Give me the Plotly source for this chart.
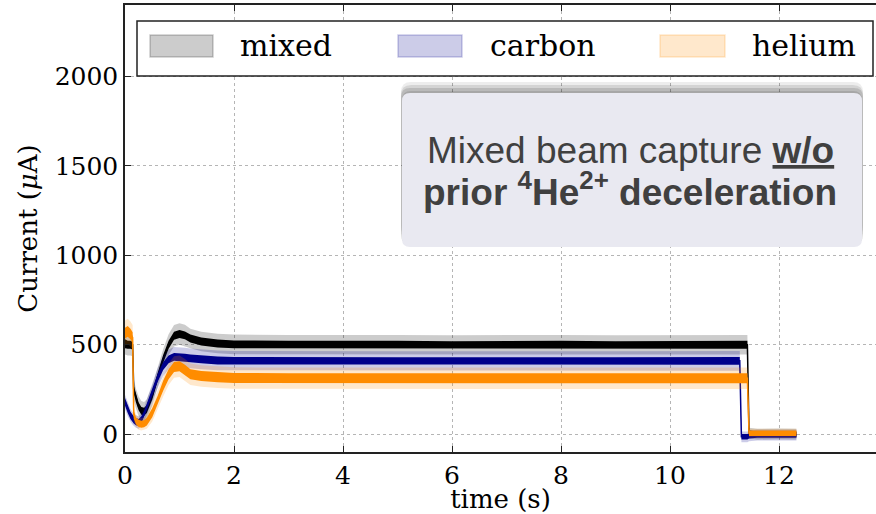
import plotly.graph_objects as go

# ---------------- data ----------------
time_s = [0, 0.05, 0.1, 0.14, 0.16, 0.2, 0.25, 0.3, 0.35, 0.4,
          0.5, 0.6, 0.7, 0.8, 0.9, 1.0, 1.1, 1.2, 1.4, 1.7,
          2.0, 3, 4, 5, 6, 7, 8, 9, 10, 11,
          11.28, 11.31, 11.42, 11.45, 11.6, 12.0, 12.32]

mixed_mean = [505, 500, 500, 495, 250, 200, 155, 130, 125, 140,
              215, 320, 420, 500, 550, 560, 552, 535, 518, 507,
              502, 500, 502, 500, 498, 500, 500, 498, 500, 498,
              500, 500, 500, 5, 0, 2, 0]
carbon_mean = [180, 140, 105, 88, 80, 70, 65, 80, 110, 150,
               235, 315, 380, 418, 432, 432, 428, 424, 418, 412,
               410, 408, 410, 408, 408, 410, 408, 408, 410, 410,
               410, -15, -15, -10, -5, -5, -5]
helium_mean = [565, 575, 560, 540, 110, 75, 60, 55, 58, 70,
               120, 190, 270, 335, 375, 380, 360, 335, 325, 318,
               314, 312, 312, 314, 312, 312, 312, 312, 312, 312,
               312, 312, 312, 5, 5, 5, 5]

# half-width of the light shaded spread
mixed_spread = [60, 60, 60, 60, 60, 55, 55, 55, 55, 55,
                55, 55, 55, 58, 60, 60, 60, 55, 55, 55,
                55, 55, 55, 55, 55, 55, 55, 55, 55, 55,
                55, 55, 55, 30, 30, 30, 30]
carbon_spread = [40, 40, 35, 35, 35, 35, 35, 35, 40, 45,
                 50, 55, 55, 55, 55, 55, 55, 55, 55, 55,
                 55, 55, 55, 55, 55, 55, 55, 55, 55, 55,
                 55, 30, 30, 30, 30, 30, 30]
helium_spread = [70, 70, 70, 70, 40, 35, 35, 35, 35, 40,
                 50, 55, 60, 60, 60, 60, 60, 60, 60, 60,
                 60, 60, 60, 60, 60, 60, 60, 60, 60, 60,
                 60, 60, 60, 25, 25, 25, 25]
# half-width of the dense noisy core of the raw signal
mixed_core = [25, 22, 22, 22, 22, 22, 22, 22, 22, 22,
              22, 22, 22, 22, 22, 22, 22, 22, 22, 22,
              22, 22, 22, 22, 22, 22, 22, 22, 22, 22,
              22, 22, 22, 15, 15, 15, 15]
carbon_core = [22, 22, 20, 20, 20, 20, 20, 20, 20, 20,
               22, 22, 22, 22, 22, 22, 22, 22, 22, 22,
               22, 22, 22, 22, 22, 22, 22, 22, 22, 22,
               22, 15, 15, 15, 15, 15, 15]
helium_core = [30, 30, 30, 30, 22, 20, 20, 20, 20, 22,
               25, 25, 28, 28, 28, 28, 28, 28, 28, 28,
               28, 28, 28, 28, 28, 28, 28, 28, 28, 28,
               28, 28, 28, 15, 15, 15, 15]

series_names = ["mixed", "carbon", "helium"]
x_ticks = [0, 2, 4, 6, 8, 10, 12, 14]
y_ticks = [0, 500, 1000, 1500, 2000]

# ---------------- figure ----------------
W, H = 876, 514
L, R, T, B = 125, 876, 5, 452
SERIF = "DejaVu Serif"

line_colors = {"mixed": "#000000", "carbon": "#00008B", "helium": "#FF8C00"}
band_colors = {"mixed": "rgba(0,0,0,0.2)", "carbon": "rgba(0,0,139,0.2)",
               "helium": "rgba(255,140,0,0.2)"}
data = {
    "mixed": (mixed_mean, mixed_spread, mixed_core),
    "carbon": (carbon_mean, carbon_spread, carbon_core),
    "helium": (helium_mean, helium_spread, helium_core),
}

fig = go.Figure()
for name in series_names:
    mean, spread, core = data[name]
    up = [m + s for m, s in zip(mean, spread)]
    lo = [m - s for m, s in zip(mean, spread)]
    fig.add_trace(go.Scatter(
        x=time_s + time_s[::-1], y=up + lo[::-1], fill="toself",
        fillcolor=band_colors[name], line=dict(width=0), mode="lines",
        name=name, showlegend=False, hoverinfo="skip"))
    cup = [m + c for m, c in zip(mean, core)]
    clo = [m - c for m, c in zip(mean, core)]
    fig.add_trace(go.Scatter(
        x=time_s + time_s[::-1], y=cup + clo[::-1], fill="toself",
        fillcolor=line_colors[name], line=dict(width=0), mode="lines",
        name=name, showlegend=False, hoverinfo="skip"))
    fig.add_trace(go.Scatter(
        x=time_s, y=mean, mode="lines", name=name, showlegend=False,
        line=dict(color=line_colors[name], width=1.5)))


def px(x):
    return (x - L) / (R - L)


def py(y):
    return (B - y) / (B - T)


def rrect(x0, y0, x1, y1, r):
    pts = [("M", x0 + r, y0), ("L", x1 - r, y0), ("Q", x1, y0, x1, y0 + r),
           ("L", x1, y1 - r), ("Q", x1, y1, x1 - r, y1), ("L", x0 + r, y1),
           ("Q", x0, y1, x0, y1 - r), ("L", x0, y0 + r), ("Q", x0, y0, x0 + r, y0)]
    out = []
    for p in pts:
        cmd = p[0]
        coords = p[1:]
        s = cmd
        for i in range(0, len(coords), 2):
            s += f" {px(coords[i]):.5f},{py(coords[i+1]):.5f}"
        out.append(s)
    return " ".join(out) + " Z"


shapes = []
# legend frame
shapes.append(dict(type="rect", xref="paper", yref="paper",
                   x0=px(137), x1=px(873), y0=py(76), y1=py(21),
                   fillcolor="white", line=dict(color="#222222", width=1.5),
                   layer="above"))
legend_swatches = {"mixed": (150, 213), "carbon": (398, 462), "helium": (660, 725)}
legend_text_x = {"mixed": 238, "carbon": 488, "helium": 750}
for name in series_names:
    a, b = legend_swatches[name]
    shapes.append(dict(type="rect", xref="paper", yref="paper",
                       x0=px(a), x1=px(b), y0=py(57), y1=py(35),
                       fillcolor=band_colors[name],
                       line=dict(color=band_colors[name], width=1.5),
                       layer="above"))

# text box soft shadow (mostly above the box) + box
for (x0, y0, x1, y1, r, a) in [(401, 82, 863, 236, 10, 0.07),
                               (401, 85, 863, 240, 10, 0.10),
                               (401, 88, 863, 244, 9, 0.12),
                               (402, 91, 862, 246, 9, 0.10)]:
    shapes.append(dict(type="path", xref="paper", yref="paper",
                       path=rrect(x0, y0, x1, y1, r),
                       fillcolor=f"rgba(0,0,0,{a})", line=dict(width=0),
                       layer="above"))
shapes.append(dict(type="path", xref="paper", yref="paper",
                   path=rrect(402, 93, 862, 247, 8),
                   fillcolor="#E9E9F1", line=dict(width=0), layer="above"))

annotations = []
for name in series_names:
    annotations.append(dict(xref="paper", yref="paper", x=px(legend_text_x[name]),
                            y=py(45), xanchor="left", yanchor="middle",
                            text=name, showarrow=False,
                            font=dict(family=SERIF, size=30, color="black")))
annotations.append(dict(xref="paper", yref="paper", x=px(630), y=py(150),
                        xanchor="center", yanchor="middle", showarrow=False,
                        text="Mixed beam capture <b><u>w/o</u></b>",
                        font=dict(family="Liberation Sans", size=37, color="#404040")))
annotations.append(dict(xref="paper", yref="paper", x=px(630), y=py(189),
                        xanchor="center", yanchor="middle", showarrow=False,
                        text="<b>prior <sup>4</sup>He<sup>2+</sup> deceleration</b>",
                        font=dict(family="Liberation Sans", size=37, color="#404040")))

axis_common = dict(ticks="inside", ticklen=6, tickwidth=1.2, tickcolor="#222222",
                   showline=True, linecolor="#222222", linewidth=1.5,
                   showgrid=True, gridcolor="#b5b5b5", griddash="dot", gridwidth=1,
                   zeroline=False,
                   tickfont=dict(family=SERIF, size=25, color="black"))

fig.update_layout(
    width=W, height=H,
    margin=dict(l=L, r=W - R, t=T, b=H - B),
    paper_bgcolor="white", plot_bgcolor="white",
    showlegend=False,
    shapes=shapes, annotations=annotations,
    xaxis=dict(range=[0, (R - L) / 54.5], tickvals=x_ticks, mirror="ticks",
               title=dict(text="time (s)", standoff=6,
                          font=dict(family=SERIF, size=26, color="black")),
               **axis_common),
    yaxis=dict(range=[-100, 2400], tickvals=y_ticks, mirror=False,
               title=dict(text="Current (<i>μ</i>A)", standoff=10,
                          font=dict(family=SERIF, size=26, color="black")),
               **axis_common),
)

fig.write_html("out.html", config={"displayModeBar": False})
